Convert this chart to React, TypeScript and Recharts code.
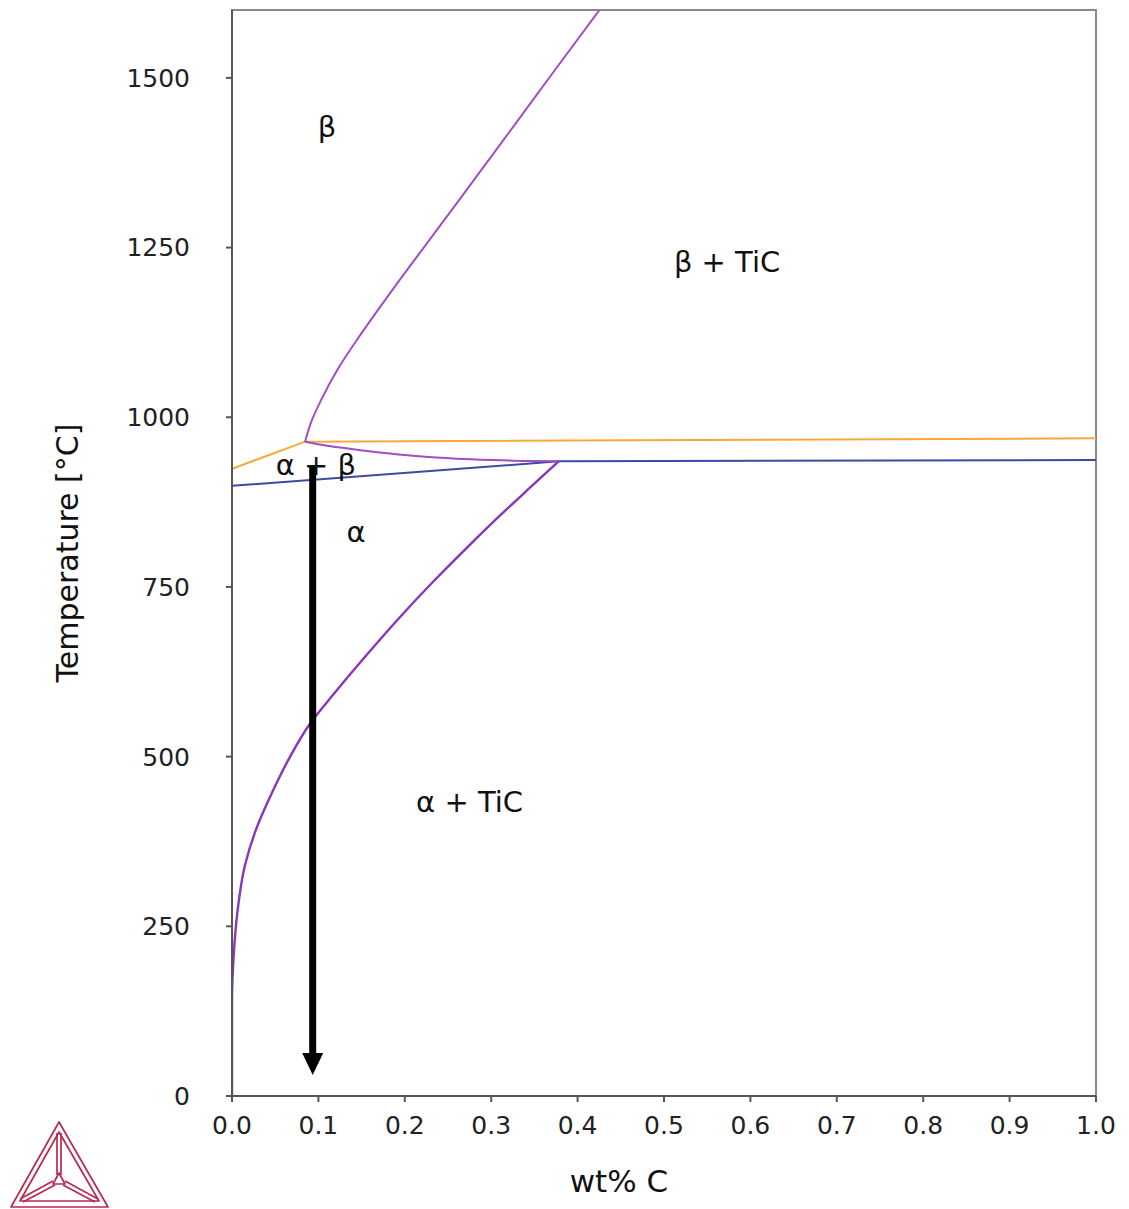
import {
  ComposedChart,
  Line,
  Scatter,
  XAxis,
  YAxis,
  ReferenceArea,
  ReferenceDot,
  Label,
} from "recharts";

// Ti-C phase diagram, low carbon corner (wt% C vs temperature)
const xTicks = [0, 0.1, 0.2, 0.3, 0.4, 0.5, 0.6, 0.7, 0.8, 0.9, 1.0];
const yTicks = [0, 250, 500, 750, 1000, 1250, 1500];

// β / β + TiC boundary
const betaTransus = [
  { c: 0.0845, t: 964 },
  { c: 0.0926, t: 996 },
  { c: 0.103, t: 1025 },
  { c: 0.122, t: 1070 },
  { c: 0.15, t: 1124 },
  { c: 0.1916, t: 1198 },
  { c: 0.2284, t: 1261 },
  { c: 0.2652, t: 1324 },
  { c: 0.2994, t: 1383 },
  { c: 0.3354, t: 1445 },
  { c: 0.374, t: 1512 },
  { c: 0.4253, t: 1600 },
];

// α+β / β+TiC boundary below the eutectoid
const alphaBetaUpper = [
  { c: 0.0845, t: 964 },
  { c: 0.11, t: 958 },
  { c: 0.14, t: 953 },
  { c: 0.18, t: 947 },
  { c: 0.22, t: 942 },
  { c: 0.26, t: 939 },
  { c: 0.3, t: 937 },
  { c: 0.34, t: 935.5 },
  { c: 0.378, t: 935 },
];

// α / α + TiC solvus
const alphaSolvus = [
  { c: 0, t: 0 },
  { c: 0, t: 140 },
  { c: 0.002, t: 208 },
  { c: 0.006, t: 268 },
  { c: 0.015, t: 340 },
  { c: 0.027, t: 390 },
  { c: 0.046, t: 446 },
  { c: 0.066, t: 497 },
  { c: 0.09, t: 548 },
  { c: 0.117, t: 591 },
  { c: 0.156, t: 650 },
  { c: 0.194, t: 705 },
  { c: 0.233, t: 758 },
  { c: 0.272, t: 808 },
  { c: 0.31, t: 855 },
  { c: 0.349, t: 901 },
  { c: 0.378, t: 935 },
];

const upperLine = [
  { c: 0, t: 924 },
  { c: 0.0845, t: 964 },
  { c: 1.0, t: 969 },
];

const lowerLine = [
  { c: 0, t: 899 },
  { c: 0.378, t: 935 },
  { c: 1.0, t: 937 },
];

// cooling path of a 0.093 wt% C alloy
const coolingShaft = [
  { c: 0.0934, t: 928 },
  { c: 0.0934, t: 60 },
];
const coolingTip = [{ c: 0.0934, t: 31 }];

const regions = [
  { text: "β", c: 0.11, t: 1428 },
  { text: "β + TiC", c: 0.573, t: 1229 },
  { text: "α + β", c: 0.097, t: 930 },
  { text: "α", c: 0.1435, t: 832 },
  { text: "α + TiC", c: 0.275, t: 433 },
];

const purple = "#a24dc6";
const darkPurple = "#8b34bd";
const orange = "#f6a93a";
const blue = "#3c4b9f";
const tickStyle = { fill: "#222", fontSize: 25 };

function ArrowHead(props: { cx?: number; cy?: number }) {
  const { cx = 0, cy = 0 } = props;
  return (
    <polygon
      points={`${cx},${cy} ${cx - 10.5},${cy - 22} ${cx + 10.5},${cy - 22}`}
      fill="#000"
    />
  );
}

function Logo() {
  const col = "#b8294f";
  return (
    <svg
      width={120}
      height={109}
      style={{ position: "absolute", left: -8, top: 1092 }}
      viewBox="0 1100 120 109"
    >
      <g fill="none" stroke={col} strokeWidth={1.7} strokeLinejoin="round">
        <polygon points="59,1122 11,1207 108,1207" />
        <polygon points="59,1132 20,1201 99,1201" />
        <polygon points="59,1173 53,1184 65,1184" />
        <line x1={57} y1={1133} x2={57} y2={1175} />
        <line x1={61} y1={1133} x2={61} y2={1175} />
        <line x1={53} y1={1181} x2={20} y2={1199} />
        <line x1={55} y1={1185} x2={23} y2={1202} />
        <line x1={65} y1={1181} x2={98} y2={1199} />
        <line x1={63} y1={1185} x2={95} y2={1202} />
      </g>
    </svg>
  );
}

export default function App() {
  return (
    <div style={{ position: "relative", width: 1113, height: 1201, fontFamily: "'DejaVu Sans', sans-serif" }}>
      <ComposedChart
        width={1113}
        height={1201}
        margin={{ top: 2, right: 25, bottom: 13, left: 44 }}
      >
        <XAxis
          dataKey="c"
          type="number"
          domain={[0, 1]}
          ticks={xTicks}
          tickFormatter={(v: number) => v.toFixed(1)}
          tick={tickStyle}
          tickSize={6}
          tickMargin={14}
          height={100}
          stroke="#555"
          strokeWidth={2}
          allowDataOverflow
        >
          <Label value="wt% C" position="insideBottom" offset={4} dx={-45} fontSize={31} fill="#111" />
        </XAxis>
        <YAxis
          dataKey="t"
          type="number"
          domain={[0, 1600]}
          ticks={yTicks}
          tick={tickStyle}
          tickSize={6}
          tickMargin={36}
          width={180}
          stroke="#555"
          strokeWidth={2}
          allowDataOverflow
        >
          <Label
            value="Temperature [°C]"
            angle={-90}
            position="insideLeft"
            offset={15}
            fontSize={30}
            fill="#111"
            style={{ textAnchor: "middle" }}
          />
        </YAxis>
        <ReferenceArea x1={0} x2={1} y1={0} y2={1600} fill="none" stroke="#888" strokeWidth={2} />

        <Line data={upperLine} dataKey="t" type="linear" stroke={orange} strokeWidth={2} dot={false} isAnimationActive={false} />
        <Line data={lowerLine} dataKey="t" type="linear" stroke={blue} strokeWidth={2} dot={false} isAnimationActive={false} />
        <Line data={alphaBetaUpper} dataKey="t" type="monotoneX" stroke={purple} strokeWidth={2} dot={false} isAnimationActive={false} />
        <Line data={betaTransus} dataKey="t" type="monotoneY" stroke={purple} strokeWidth={2} dot={false} isAnimationActive={false} />
        <Line data={alphaSolvus} dataKey="t" type="monotoneY" stroke={darkPurple} strokeWidth={2.4} dot={false} isAnimationActive={false} />

        {regions.map((r) => (
          <ReferenceDot
            key={r.text}
            x={r.c}
            y={r.t}
            r={0}
            fill="none"
            stroke="none"
            label={{ value: r.text, position: "center", fontSize: 29, fill: "#111" }}
          />
        ))}

        <Line data={coolingShaft} dataKey="t" type="linear" stroke="#000" strokeWidth={7} dot={false} isAnimationActive={false} />
        <Scatter data={coolingTip} dataKey="t" shape={<ArrowHead />} isAnimationActive={false} />
      </ComposedChart>
      <Logo />
    </div>
  );
}
